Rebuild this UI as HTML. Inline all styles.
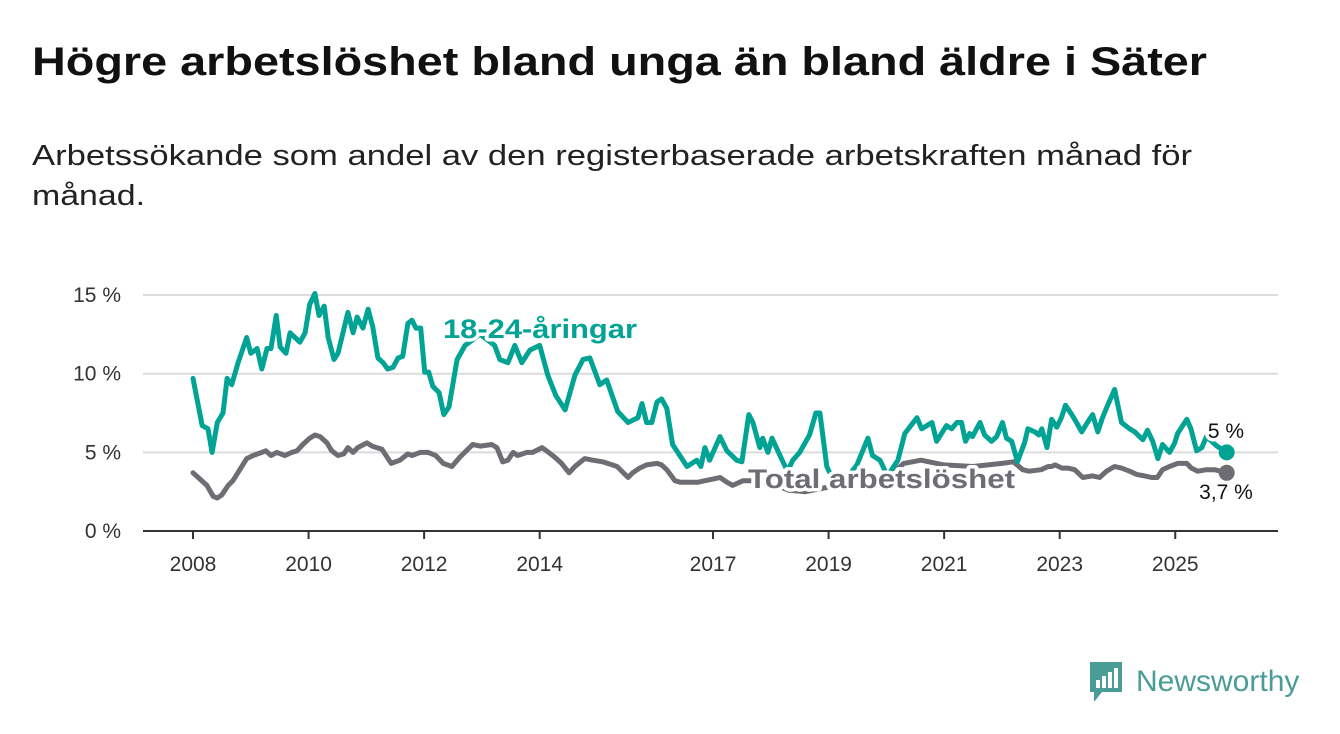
<!DOCTYPE html>
<html><head><meta charset="utf-8">
<style>
body{margin:0;background:#fff;width:1340px;height:734px;overflow:hidden;font-family:"Liberation Sans",sans-serif;}
svg{position:absolute;left:0;top:0;}
</style></head><body>
<svg id="chart" width="1340" height="734">
<text x="32" y="75" font-size="40" font-weight="bold" fill="#111" textLength="1175" lengthAdjust="spacingAndGlyphs">Högre arbetslöshet bland unga än bland äldre i Säter</text>
<text x="32" y="165" font-size="29" fill="#222" textLength="1160" lengthAdjust="spacingAndGlyphs">Arbetssökande som andel av den registerbaserade arbetskraften månad för</text>
<text x="32" y="205" font-size="29" fill="#222" textLength="113" lengthAdjust="spacingAndGlyphs">månad.</text>
</svg>
<script>
const yTicks=[0,5,10,15];
const yTickLabels=["0 %","5 %","10 %","15 %"];
const xTicks=[2008,2010,2012,2014,2017,2019,2021,2023,2025];
const youthDates=[2008.00,2008.16,2008.26,2008.33,2008.42,2008.52,2008.59,2008.67,2008.78,2008.93,2009.00,2009.11,2009.19,2009.28,2009.35,2009.44,2009.51,2009.61,2009.68,2009.85,2009.94,2010.02,2010.11,2010.18,2010.27,2010.34,2010.44,2010.51,2010.68,2010.77,2010.84,2010.94,2011.03,2011.11,2011.20,2011.29,2011.37,2011.46,2011.55,2011.63,2011.72,2011.79,2011.86,2011.94,2012.01,2012.08,2012.15,2012.26,2012.34,2012.43,2012.57,2012.71,2012.97,2013.22,2013.31,2013.45,2013.57,2013.69,2013.83,2014.00,2014.14,2014.28,2014.44,2014.61,2014.75,2014.87,2015.04,2015.16,2015.35,2015.53,2015.70,2015.77,2015.85,2015.94,2016.03,2016.11,2016.20,2016.30,2016.55,2016.72,2016.79,2016.86,2016.94,2017.12,2017.24,2017.41,2017.50,2017.62,2017.69,2017.81,2017.86,2017.95,2018.02,2018.21,2018.29,2018.38,2018.50,2018.67,2018.78,2018.85,2018.97,2019.11,2019.28,2019.49,2019.68,2019.76,2019.89,2020.02,2020.20,2020.32,2020.53,2020.61,2020.79,2020.87,2021.04,2021.13,2021.22,2021.30,2021.37,2021.44,2021.49,2021.62,2021.70,2021.82,2021.91,2022.01,2022.08,2022.17,2022.27,2022.39,2022.45,2022.57,2022.64,2022.69,2022.78,2022.86,2022.95,2023.03,2023.10,2023.21,2023.29,2023.38,2023.48,2023.57,2023.66,2023.74,2023.83,2023.95,2024.07,2024.21,2024.30,2024.44,2024.52,2024.61,2024.70,2024.78,2024.90,2024.99,2025.04,2025.20,2025.27,2025.37,2025.46,2025.54,2025.72,2025.89];
const youthVals=[9.7,6.7,6.5,5.0,6.9,7.5,9.7,9.3,10.7,12.3,11.3,11.6,10.3,11.6,11.6,13.7,11.7,11.3,12.6,12.0,12.6,14.4,15.1,13.7,14.3,12.3,10.9,11.3,13.9,12.6,13.6,12.9,14.1,13.0,11.0,10.7,10.3,10.4,11.0,11.1,13.2,13.4,12.9,12.9,10.1,10.1,9.2,8.8,7.4,7.9,10.9,11.8,12.5,11.8,10.9,10.7,11.8,10.7,11.5,11.8,9.9,8.6,7.7,9.9,10.9,11.0,9.3,9.6,7.6,6.9,7.2,8.1,6.9,6.9,8.2,8.4,7.8,5.5,4.1,4.5,4.1,5.3,4.5,6.0,5.1,4.5,4.4,7.4,6.9,5.3,5.9,5.0,5.9,4.4,3.8,4.5,5.0,6.1,7.5,7.5,4.1,3.0,3.2,4.2,5.9,4.8,4.5,3.5,4.5,6.2,7.2,6.5,6.9,5.7,6.7,6.5,6.9,6.9,5.7,6.2,6.0,6.9,6.1,5.7,6.0,6.9,5.9,5.7,4.4,5.6,6.5,6.3,6.1,6.5,5.3,7.1,6.6,7.2,8.0,7.4,6.9,6.3,6.9,7.4,6.3,7.2,8.0,9.0,6.9,6.5,6.3,5.8,6.4,5.7,4.6,5.5,5.0,5.6,6.2,7.1,6.5,5.1,5.3,6.0,5.4,5.0];
const totalDates=[2008.00,2008.09,2008.24,2008.35,2008.42,2008.50,2008.61,2008.69,2008.81,2008.93,2009.04,2009.19,2009.26,2009.35,2009.45,2009.59,2009.71,2009.80,2009.90,2010.02,2010.11,2010.20,2010.32,2010.40,2010.51,2010.61,2010.68,2010.77,2010.85,2011.01,2011.10,2011.18,2011.27,2011.43,2011.58,2011.72,2011.79,2011.93,2012.07,2012.20,2012.33,2012.48,2012.62,2012.84,2012.97,2013.17,2013.26,2013.36,2013.45,2013.54,2013.62,2013.78,2013.88,2014.04,2014.12,2014.26,2014.38,2014.51,2014.61,2014.78,2014.92,2015.09,2015.34,2015.53,2015.61,2015.73,2015.85,2016.03,2016.11,2016.20,2016.34,2016.43,2016.60,2016.74,2016.86,2017.00,2017.12,2017.24,2017.34,2017.52,2017.90,2018.30,2018.60,2019.00,2019.50,2020.00,2020.30,2020.60,2021.00,2021.50,2022.00,2022.20,2022.36,2022.47,2022.68,2022.80,2022.86,2022.92,2023.04,2023.14,2023.26,2023.40,2023.57,2023.69,2023.81,2023.95,2024.07,2024.21,2024.33,2024.47,2024.59,2024.69,2024.78,2024.90,2025.04,2025.20,2025.28,2025.39,2025.54,2025.68,2025.89];
const totalVals=[3.7,3.4,2.9,2.2,2.1,2.3,2.9,3.2,3.9,4.6,4.8,5.0,5.1,4.8,5.0,4.8,5.0,5.1,5.5,5.9,6.1,6.0,5.6,5.1,4.8,4.9,5.3,5.0,5.3,5.6,5.4,5.3,5.2,4.3,4.5,4.9,4.8,5.0,5.0,4.8,4.3,4.1,4.7,5.5,5.4,5.5,5.3,4.4,4.5,5.0,4.8,5.0,5.0,5.3,5.1,4.7,4.3,3.7,4.1,4.6,4.5,4.4,4.1,3.4,3.7,4.0,4.2,4.3,4.2,3.9,3.2,3.1,3.1,3.1,3.2,3.3,3.4,3.1,2.9,3.2,3.2,2.6,2.5,2.8,3.2,3.3,4.3,4.5,4.2,4.1,4.3,4.4,3.9,3.8,3.9,4.1,4.1,4.2,4.0,4.0,3.9,3.4,3.5,3.4,3.8,4.1,4.0,3.8,3.6,3.5,3.4,3.4,3.9,4.1,4.3,4.3,4.0,3.8,3.9,3.9,3.7];

const NS="http://www.w3.org/2000/svg";
const svg=document.getElementById('chart');
const X=y=>193+(y-2008)*57.78;
const Y=v=>531-v*15.73;
function mk(tag,attrs,parent){const e=document.createElementNS(NS,tag);for(const k in attrs)e.setAttribute(k,attrs[k]);(parent||svg).appendChild(e);return e;}

yTicks.forEach((t,i)=>{
  if(t>0){const g=mk('line',{x1:143,x2:1278,y1:Y(t),y2:Y(t),stroke:'#dcdcdc','stroke-width':2});
  
  }
  const l=mk('text',{x:121,y:Y(t)+7,'text-anchor':'end','font-size':21,fill:'#333'});
  l.textContent=yTickLabels[i];
  
  
});
const ax=mk('line',{x1:143,x2:1278,y1:531,y2:531,stroke:'#333','stroke-width':2});


xTicks.forEach(t=>{
  const tk=mk('line',{x1:X(t),x2:X(t),y1:531,y2:539,stroke:'#333','stroke-width':2});
  
  
  const l=mk('text',{x:X(t),y:571,'text-anchor':'middle','font-size':21,fill:'#333'});
  l.textContent=t;
  
  
});
function series(d,v,color,name){
  const pts=d.map((x,i)=>X(x).toFixed(1)+','+Y(v[i]).toFixed(1)).join(' ');
  const p=mk('polyline',{points:pts,fill:'none',stroke:color,'stroke-width':5,'stroke-linejoin':'round','stroke-linecap':'round'});
  
  
  const c=mk('circle',{cx:X(d[d.length-1]),cy:Y(v[v.length-1]),r:8,fill:color});
  
  
}
series(totalDates,totalVals,'#6e6d73','total-line');
series(youthDates,youthVals,'#00a394','youth-line');
function label(txt,x,y,size,weight,color,anchor,name,len){
  const a={x:x,y:y,'font-size':size,'font-weight':weight,fill:color,'text-anchor':anchor,stroke:'#fff','stroke-width':7,'paint-order':'stroke','stroke-linejoin':'round'};
  if(len){a.textLength=len;a.lengthAdjust='spacingAndGlyphs';}
  const t=mk('text',a);
  t.textContent=txt;
  
  
}
label('18-24-åringar',443,338,27,'bold','#00a394','start','youth-series-label',194);
label('Total arbetslöshet',748,488,27,'bold','#6e6d73','start','total-series-label',267);
label(youthVals[youthVals.length-1].toString().replace('.',',')+' %',1226,438,21,'normal','#111','middle','youth-end-value');
label(totalVals[totalVals.length-1].toString().replace('.',',')+' %',1226,499,21,'normal','#111','middle','total-end-value');
</script>
<div style="position:absolute;left:1088px;top:660px;display:flex;align-items:center;">
  <svg width="36" height="44" viewBox="0 0 36 44" style="position:static">
    <path d="M2 2h32v30H14l-8 10v-10H2z" fill="#4a9c97"/>
    <rect x="8" y="20" width="4" height="8" fill="#fff"/><rect x="14" y="16" width="4" height="12" fill="#fff"/><rect x="20" y="12" width="4" height="16" fill="#fff"/><rect x="26" y="8" width="4" height="20" fill="#fff"/>
  </svg>
  <span style="margin-left:12px;font-size:30px;color:#4a9c97;font-weight:500;">Newsworthy</span>
</div>
</body></html>
